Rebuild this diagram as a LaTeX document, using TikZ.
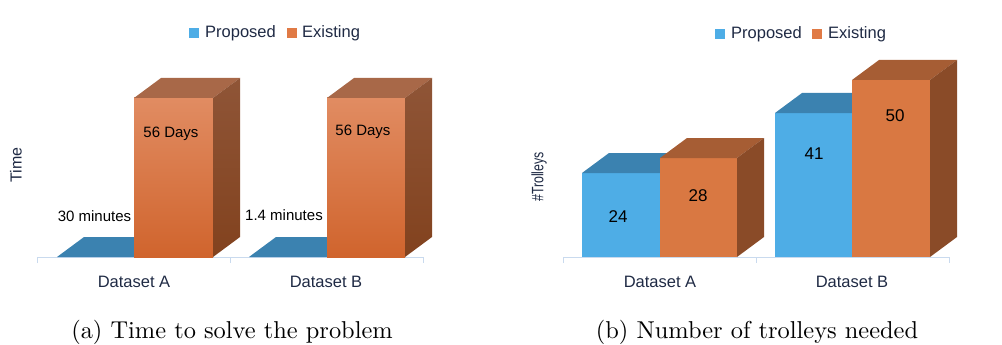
\documentclass[tikz,border=0pt]{standalone}
\usepackage{fontspec}
\setsansfont{Liberation Sans}
\newfontfamily\capfont{lmroman10-regular}[Extension=.otf]
\newfontfamily\narrowsans{Liberation Sans}[FakeStretch=0.75]
\definecolor{navy}{HTML}{1F2A44}
\definecolor{axisc}{HTML}{C9DAEE}
\definecolor{blueF}{HTML}{4EADE6}
\definecolor{blueT}{HTML}{3B82B0}
\definecolor{orF}{HTML}{D97842}
\definecolor{orT}{HTML}{A65D34}
\definecolor{orS}{HTML}{8A4B28}
\definecolor{orFtop}{HTML}{E18C62}
\definecolor{orFbot}{HTML}{D0642D}
\definecolor{orStop}{HTML}{8F5537}
\definecolor{orSbot}{HTML}{82421E}
\definecolor{orTl}{HTML}{A86848}
\definecolor{legO}{HTML}{E07A45}
\newcommand\threedbar[6]{%
  \path[#4] (#1,257) rectangle (#2,#3);
  \path[#5] (#1,#3) -- (#2,#3) -- (#2+27,#3-20) -- (#1+27,#3-20) -- cycle;
  \path[#6] (#2,257) -- (#2,#3) -- (#2+27,#3-20) -- (#2+27,237) -- cycle;
}
\begin{document}
\begin{tikzpicture}[x=1pt,y=-1pt,
  legtxt/.style={font=\sffamily\fontsize{16.5}{19}\selectfont, text=navy, inner sep=0pt},
  legsq/.style={minimum size=10pt, inner sep=0pt, draw=none},
  cattxt/.style={font=\sffamily\fontsize{16.5}{19}\selectfont, text=navy, inner sep=0pt},
  ytxt/.style={font=\sffamily\fontsize{16}{19}\selectfont, text=navy, inner sep=0pt, rotate=90},
  ytxtb/.style={font=\narrowsans\fontsize{16.5}{19}\selectfont, text=navy, inner sep=0pt, rotate=90},
  vlab/.style={font=\sffamily\fontsize{15}{18}\selectfont, text=black, inner sep=0pt},
  nlab/.style={font=\sffamily\fontsize{17}{20}\selectfont, text=black, inner sep=0pt},
  captxt/.style={font=\capfont\fontsize{24.4}{29}\selectfont, text=black, inner sep=0pt},
  axisline/.style={draw=axisc, line width=1pt}]
\useasboundingbox (0,0) rectangle (1002,345);

% ---------- (a) ----------
\node[legsq, fill=blueF] (la1) at (194,33) {};
\node[legtxt, anchor=west] (la2) at (205,33) {Proposed};
\node[legsq, fill=legO] (la3) at (292,33) {};
\node[legtxt, anchor=west] (la4) at (302,33) {Existing};

\draw[axisline] (37,263) -- (37,257) -- (423,257) -- (423,263);
\draw[axisline] (230,257) -- (230,263);

\fill[blueT] (57,257) -- (134,257) -- (161,237) -- (84,237) -- cycle;
\threedbar{134}{213}{98}{top color=orFtop,bottom color=orFbot}{fill=orTl}{top color=orStop,bottom color=orSbot}
\fill[blueT] (249,257) -- (327,257) -- (354,237) -- (276,237) -- cycle;
\threedbar{327}{405}{98}{top color=orFtop,bottom color=orFbot}{fill=orTl}{top color=orStop,bottom color=orSbot}

\node[vlab] (a30) at (94.5,216) {30 minutes};
\node[vlab] (a14) at (284,215) {1.4 minutes};
\node[vlab] (a56a) at (171,134) {56 Days};
\node[vlab] (a56b) at (363,132) {56 Days};

\node[ytxt] (ay) at (16,165) {Time};
\node[cattxt] (acA) at (134,282) {Dataset A};
\node[cattxt] (acB) at (326,282) {Dataset B};
\node[captxt] (capa) at (232,332) {(a) Time to solve the problem};

% ---------- (b) ----------
\node[legsq, fill=blueF] (lb1) at (719.5,34) {};
\node[legtxt, anchor=west] (lb2) at (731,34) {Proposed};
\node[legsq, fill=legO] (lb3) at (817,34) {};
\node[legtxt, anchor=west] (lb4) at (828,34) {Existing};

\draw[axisline] (563,263) -- (563,257) -- (949,257) -- (949,263);
\draw[axisline] (756,257) -- (756,263);

\threedbar{582}{660}{173}{fill=blueF}{fill=blueT}{fill=blueT}
\threedbar{660}{737}{158}{fill=orF}{fill=orT}{fill=orS}
\threedbar{775}{852}{113}{fill=blueF}{fill=blueT}{fill=blueT}
\threedbar{852}{930}{80}{fill=orF}{fill=orT}{fill=orS}

\node[nlab] (b24) at (618,217) {24};
\node[nlab] (b28) at (698,196) {28};
\node[nlab] (b41) at (814,154) {41};
\node[nlab] (b50) at (895,116) {50};

\node[ytxtb] (by) at (539,177) {\#Trolleys};
\node[cattxt] (bcA) at (660,282) {Dataset A};
\node[cattxt] (bcB) at (852,282) {Dataset B};
\node[captxt] (capb) at (757,332) {(b) Number of trolleys needed};
\end{tikzpicture}
\end{document}
